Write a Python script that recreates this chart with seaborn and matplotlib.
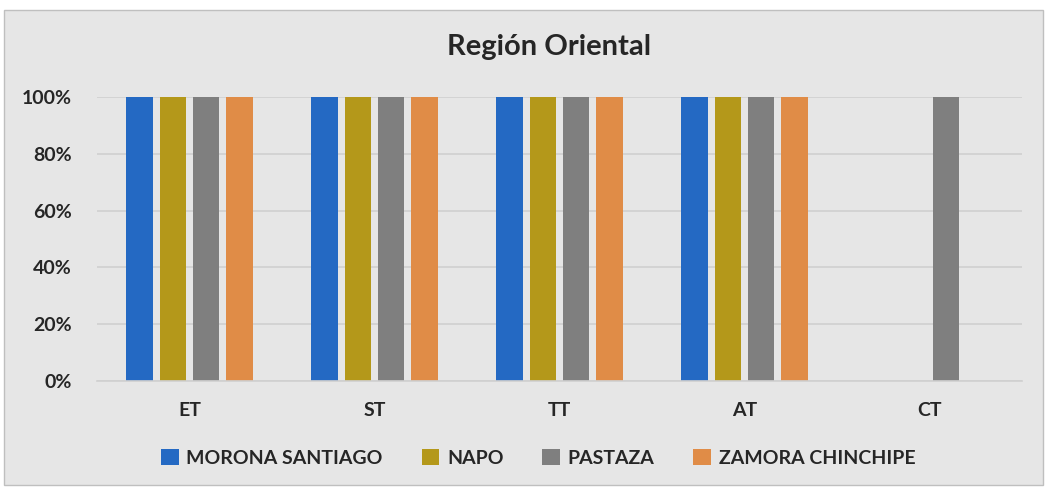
import matplotlib
matplotlib.use("Agg")
import matplotlib.pyplot as plt
import seaborn as sns
import pandas as pd
from matplotlib.patches import Rectangle
from matplotlib.ticker import PercentFormatter

categories = ["ET", "ST", "TT", "AT", "CT"]
provinces = ["MORONA SANTIAGO", "NAPO", "PASTAZA", "ZAMORA CHINCHIPE"]
morona = [1.0, 1.0, 1.0, 1.0, 0.0]
napo = [1.0, 1.0, 1.0, 1.0, 0.0]
pastaza = [1.0, 1.0, 1.0, 1.0, 1.0]
zamora = [1.0, 1.0, 1.0, 1.0, 0.0]
colors = ["#2469C3", "#B4981A", "#7F7F7F", "#E08C47"]

rows = []
for prov, vals in zip(provinces, [morona, napo, pastaza, zamora]):
    for c, v in zip(categories, vals):
        rows.append({"cat": c, "prov": prov, "val": v})
df = pd.DataFrame(rows)

sns.set_theme(style="white")
plt.rcParams["font.family"] = ["Lato", "DejaVu Sans"]

fig = plt.figure(figsize=(10.45, 4.87), dpi=100, facecolor="white")
bg = Rectangle((4 / 1045, 2 / 487), 1039 / 1045, 475 / 487, transform=fig.transFigure,
               facecolor="#E6E6E6", edgecolor="#BFBFBF", linewidth=1.0, zorder=-10)
fig.patches.append(bg)

ax = fig.add_axes([97 / 1045, 1 - 381 / 487, 925 / 1045, (381 - 97) / 487])
ax.set_facecolor("none")
sns.barplot(data=df, x="cat", y="val", hue="prov", order=categories, hue_order=provinces,
            palette=colors, width=0.72, gap=0.2, ax=ax, legend=False, saturation=1,
            errorbar=None, linewidth=0, edgecolor="none")

ax.set_ylim(0, 1.0)
ax.set_xlim(-0.5, 4.5)
ax.yaxis.set_major_formatter(PercentFormatter(1.0, decimals=0))
ax.set_yticks([0, 0.2, 0.4, 0.6, 0.8, 1.0])
ax.grid(axis="y", color="#D0D0D0", linewidth=1.2)
ax.set_axisbelow(True)
for s in ["top", "right", "left"]:
    ax.spines[s].set_visible(False)
ax.spines["bottom"].set_color("#D0D0D0")
ax.spines["bottom"].set_linewidth(1.2)
ax.tick_params(axis="both", length=0, labelsize=14, labelcolor="#262626")
ax.tick_params(axis="y", pad=18)
ax.tick_params(axis="x", pad=15)
for lbl in ax.get_xticklabels() + ax.get_yticklabels():
    lbl.set_fontweight("bold")
ax.set_xlabel("")
ax.set_ylabel("")

fig.text(0.525, 1 - 47 / 487, "Región Oriental", ha="center", va="center",
         fontsize=21, fontweight="bold", color="#262626")

handles = [Rectangle((0, 0), 1, 1, facecolor=c, edgecolor="none") for c in colors]
leg = fig.legend(handles, provinces, loc="center", bbox_to_anchor=(0.515, 1 - 458 / 487),
                 ncol=4, frameon=False, handlelength=0.9, handleheight=0.9,
                 handletextpad=0.4, columnspacing=2.0,
                 prop={"size": 14, "weight": "bold"})
for t in leg.get_texts():
    t.set_color("#262626")

fig.savefig("out.png", dpi=100, facecolor="white")
